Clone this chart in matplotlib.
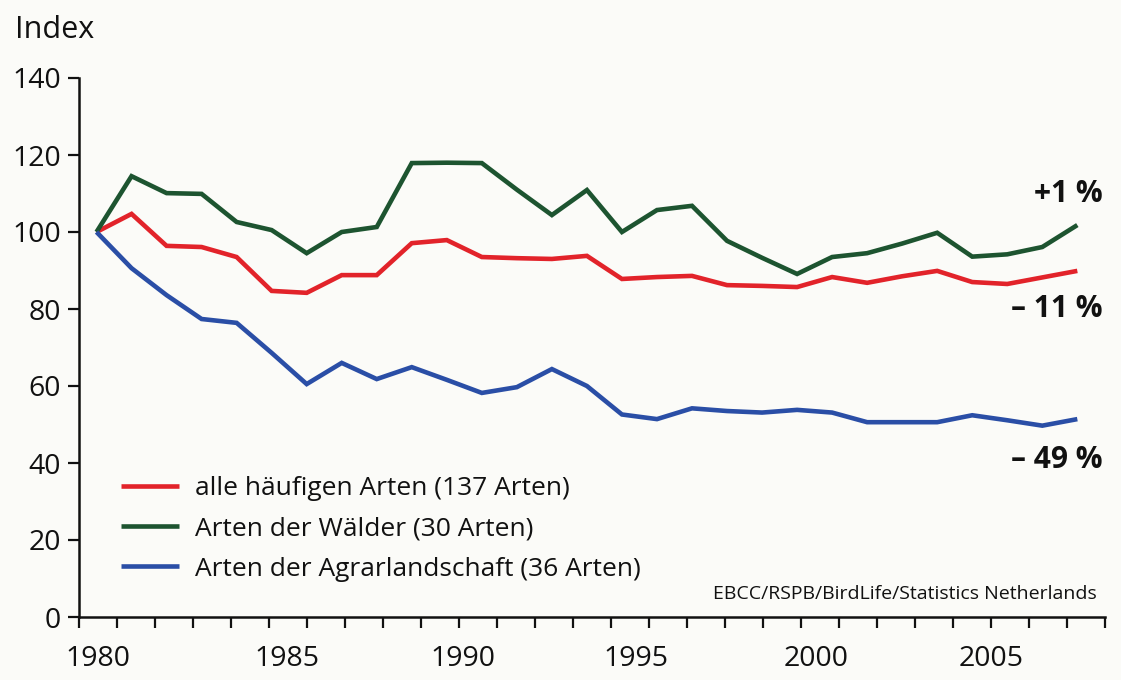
import matplotlib
matplotlib.use("Agg")
import matplotlib.pyplot as plt
import numpy as np

plt.rcParams['font.family'] = ['Open Sans', 'DejaVu Sans']

years = list(range(1980, 2009))
alle = [100, 104.7, 96.4, 96.1, 93.5, 84.7, 84.2, 88.8, 88.8, 97.1, 97.9,
        93.5, 93.2, 93.0, 93.8, 87.8, 88.3, 88.6, 86.2, 86.0, 85.7,
        88.3, 86.8, 88.5, 89.9, 87.0, 86.5, 88.2, 89.9]
waelder = [100, 114.5, 110.1, 109.9, 102.6, 100.5, 94.5, 100.0, 101.3, 117.9, 118.0,
           117.9, 111.0, 104.4, 110.9, 100.0, 105.7, 106.8, 97.7, 93.3, 89.1,
           93.5, 94.5, 97.0, 99.8, 93.6, 94.2, 96.1, 101.8]
agrar = [100, 90.6, 83.6, 77.4, 76.4, 68.6, 60.5, 66.0, 61.8, 64.9, 61.6,
         58.2, 59.7, 64.4, 60.0, 52.6, 51.4, 54.2, 53.5, 53.1, 53.8,
         53.1, 50.6, 50.6, 50.6, 52.4, 51.1, 49.7, 51.4]

labels = ["alle häufigen Arten (137 Arten)",
          "Arten der Wälder (30 Arten)",
          "Arten der Agrarlandschaft (36 Arten)"]
colors = ["#e2232a", "#1d5430", "#2a4ea6"]
changes = ["+1 %", "– 11 %", "– 49 %"]
change_y = [110.0, 80.0, 40.8]
year_labels = [1980, 1985, 1990, 1995, 2000, 2005]
year_label_pos = [1980.05, 1985.45, 1990.45, 1995.4, 2000.55, 2005.55]
yticks = [0, 20, 40, 60, 80, 100, 120, 140]

bg = "#fbfbf8"
fig = plt.figure(figsize=(11.21, 6.8), dpi=100, facecolor=bg)
ax = fig.add_axes([79/1121, 1-617/680, (1105-79)/1121, (617-78)/680])
ax.set_facecolor(bg)

series = [alle, waelder, agrar]
for vals, lab, col in zip(series, labels, colors):
    ax.plot(years, vals, color=col, lw=3.3, label=lab, solid_joinstyle='miter',
            solid_capstyle='butt')

ax.set_xlim(1979.5, 2008.79)
ax.set_ylim(0, 140)

for s in ['top', 'right']:
    ax.spines[s].set_visible(False)
for s in ['left', 'bottom']:
    ax.spines[s].set_linewidth(1.8)
    ax.spines[s].set_color('#111111')

ax.set_yticks(yticks)
ax.set_yticklabels([str(v) for v in yticks], fontsize=20.5, color='#111111')
ax.tick_params(axis='y', length=8, width=1.6, pad=5, colors='#111111')

ax.set_xticks(year_label_pos)
ax.set_xticklabels([str(y) for y in year_labels], fontsize=20.5, color='#111111')
ax.tick_params(axis='x', which='major', length=0, pad=20)
ax.set_xticks(np.linspace(1979.5, 2008.79, 28), minor=True)
ax.tick_params(axis='x', which='minor', length=8, width=1.6, color='#111111')

fig.text(15/1121, 1-38/680, "Index", fontsize=22, color='#111111',
         ha='left', va='baseline')

for txt, yv in zip(changes, change_y):
    ax.text(2008.73, yv, txt, fontsize=21.5, fontweight='bold', color='#111111',
            ha='right', va='center')

leg = ax.legend(loc='upper left', bbox_to_anchor=(0.031, 0.281), frameon=False,
                fontsize=19, handlelength=2.2, handletextpad=0.6, labelspacing=0.58,
                borderaxespad=0)
for t in leg.get_texts():
    t.set_color('#111111')

ax.text(0.992, 0.043, "EBCC/RSPB/BirdLife/Statistics Netherlands", transform=ax.transAxes,
        fontsize=14, ha='right', va='center', color='#111111')

fig.savefig("out.png", dpi=100, facecolor=bg)
